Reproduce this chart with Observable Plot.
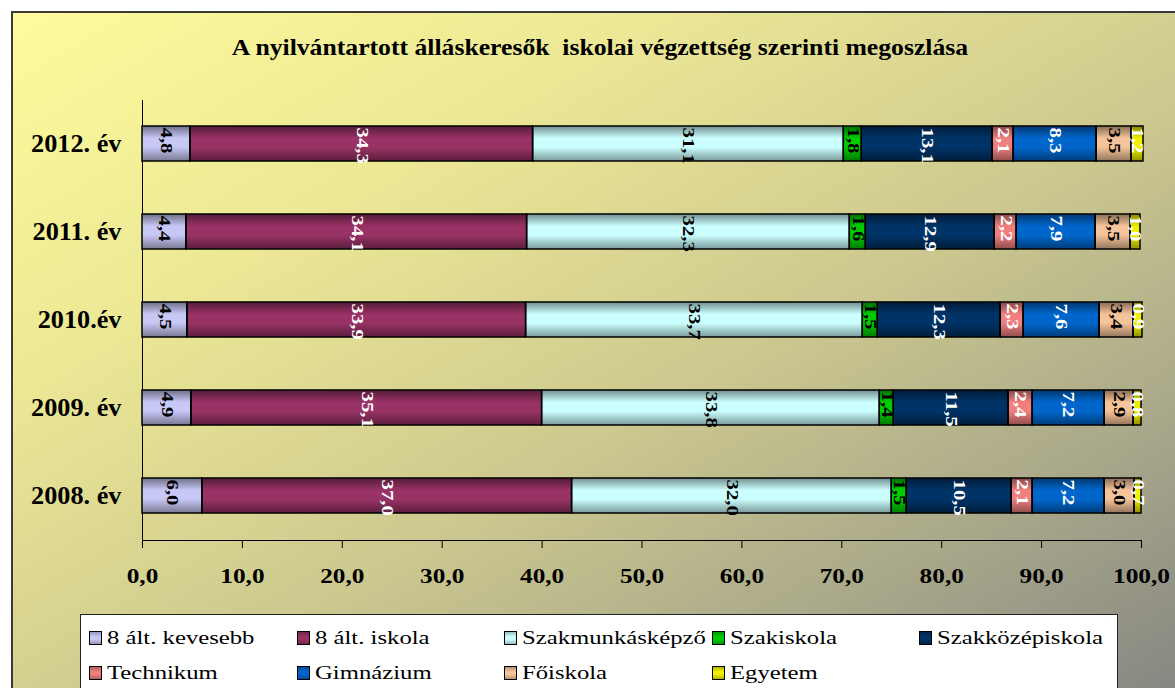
<!DOCTYPE html>
<html>
<head>
<meta charset="utf-8">
<script src="https://cdn.jsdelivr.net/npm/d3@7"></script>
<script src="https://cdn.jsdelivr.net/npm/@observablehq/plot@0.6"></script>
<style>
  html, body { margin: 0; padding: 0; width: 1175px; height: 688px; overflow: hidden; background: #fff; }
  #frame { position: absolute; left: 11px; top: 11px; width: 1180px; height: 690px; border: 2px solid #3a3a3a;
    background: linear-gradient(to bottom right, #fdfb9c 0%, #ebe795 28%, #cdc98f 55%, #a9a88a 78%, #848482 100%); }
  #chart { position: absolute; left: 0; top: 0; }
  #title { position: absolute; left: 600px; top: 35px; transform: translateX(-50%) scaleX(1.07); white-space: pre;
    font: bold 24px "Liberation Serif", serif; line-height: 1; color: #000; }
  #legend { position: absolute; left: 80px; top: 614px; width: 1036px; height: 100px; background: #fff; border: 1px solid #222; }
  .item { position: absolute; height: 22px; display: flex; align-items: center; }
  .sw { width: 11px; height: 12px; border: 1px solid #000; box-sizing: content-box; margin-right: 5px;
    background-image: linear-gradient(to bottom, rgba(0,0,0,0.25), rgba(0,0,0,0) 40%, rgba(0,0,0,0) 60%, rgba(0,0,0,0.25)); }
  .lt { font: 19px "Liberation Serif", serif; transform: scaleX(1.3); transform-origin: left center; white-space: nowrap; color: #000; }
  svg text { font-family: "Liberation Serif", serif; }
  g[aria-label="x-axis tick label"] text { font-size: 22px; font-weight: bold; fill: #000; }
  g[aria-label="y-axis tick label"] text { font-size: 25px; font-weight: bold; fill: #000; }
</style>
</head>
<body>
<div id="frame"></div>
<div id="chart"></div>
<div id="title">A nyilvántartott álláskeresők  iskolai végzettség szerinti megoszlása</div>
<div id="legend"></div>
<script>
const years = ["2012. év", "2011. év", "2010.év", "2009. év", "2008. év"];
const categories = ["8 ált. kevesebb", "8 ált. iskola", "Szakmunkásképző", "Szakiskola", "Szakközépiskola", "Technikum", "Gimnázium", "Főiskola", "Egyetem"];
const colors = ["#c8c8f6", "#993366", "#ccffff", "#00cc00", "#003366", "#f08080", "#0066cc", "#f5c49a", "#f0f000"];
const darkLabelCats = ["8 ált. kevesebb", "Szakmunkásképző", "Szakiskola", "Főiskola"];
const v2012 = [4.8, 34.3, 31.1, 1.8, 13.1, 2.1, 8.3, 3.5, 1.2];
const v2011 = [4.4, 34.1, 32.3, 1.6, 12.9, 2.2, 7.9, 3.5, 1.0];
const v2010 = [4.5, 33.9, 33.7, 1.5, 12.3, 2.3, 7.6, 3.4, 0.9];
const v2009 = [4.9, 35.1, 33.8, 1.4, 11.5, 2.4, 7.2, 2.9, 0.8];
const v2008 = [6.0, 37.0, 32.0, 1.5, 10.5, 2.1, 7.2, 3.0, 0.7];
const xTicks = [0, 10, 20, 30, 40, 50, 60, 70, 80, 90, 100];

const series = [v2012, v2011, v2010, v2009, v2008];
const rows = [];
years.forEach((y, i) => categories.forEach((c, j) => rows.push({year: y, cat: c, value: series[i][j]})));
const fmt = v => v.toFixed(1).replace(".", ",");
const stackOpts = {y: "year", x: "value", z: "cat"};

const plot = Plot.plot({
  width: 1175,
  height: 688,
  marginLeft: 142,
  marginRight: 34,
  marginTop: 100,
  marginBottom: 148,
  style: {background: "transparent", fontFamily: "Liberation Serif, serif", color: "#000"},
  x: {domain: [0, 100], ticks: xTicks, tickFormat: fmt, tickSize: 8, tickPadding: 19, line: true, label: null},
  y: {domain: years, paddingInner: 0.6, paddingOuter: 0.3, tickSize: 0, tickPadding: 21, line: true, label: null},
  color: {domain: categories, range: colors},
  marks: [
    Plot.barX(rows, Plot.stackX({...stackOpts, fill: "cat"})),
    Plot.barX(rows, Plot.stackX({...stackOpts, fill: "url(#shade)", stroke: "#000", strokeWidth: 1.5})),
    Plot.text(rows, Plot.stackX({...stackOpts, text: d => darkLabelCats.includes(d.cat) ? fmt(d.value) : "",
      fill: "#000", rotate: 90, textAnchor: "start", dy: -16.5, fontSize: 16, fontWeight: "bold"})),
    Plot.text(rows, Plot.stackX({...stackOpts, text: d => darkLabelCats.includes(d.cat) ? "" : fmt(d.value),
      fill: "#fff", rotate: 90, textAnchor: "start", dy: -16.5, fontSize: 16, fontWeight: "bold"}))
  ]
});
document.getElementById("chart").appendChild(plot);

// gradient shading for the bars
const svg = d3.select(plot);
const grad = svg.insert("defs", ":first-child").append("linearGradient")
  .attr("id", "shade").attr("x1", 0).attr("y1", 0).attr("x2", 0).attr("y2", 1);
[[0, 0.45], [0.35, 0], [0.6, 0], [1, 0.4]].forEach(([o, a]) =>
  grad.append("stop").attr("offset", o).attr("stop-color", "#000").attr("stop-opacity", a));

// stretch text horizontally along its direction to match the reference's wide glyphs
function stretch(nodes, f) {
  nodes.forEach(t => {
    const L = t.getComputedTextLength();
    if (L > 0) { t.setAttribute("textLength", L * f); t.setAttribute("lengthAdjust", "spacingAndGlyphs"); }
  });
}
stretch(plot.querySelectorAll('g[aria-label="x-axis tick label"] text'), 1.15);
stretch(plot.querySelectorAll('g[aria-label="y-axis tick label"] text'), 1.05);
stretch(plot.querySelectorAll('g[aria-label="text"] text'), 1.3);

// legend
const legend = document.getElementById("legend");
categories.forEach((c, i) => {
  const col = i % 5, row = Math.floor(i / 5);
  const item = document.createElement("div");
  item.className = "item";
  item.style.left = (8 + col * 207.5) + "px";
  item.style.top = (12 + row * 35) + "px";
  const sw = document.createElement("span");
  sw.className = "sw";
  sw.style.backgroundColor = colors[i];
  const lt = document.createElement("span");
  lt.className = "lt";
  lt.textContent = c;
  item.appendChild(sw);
  item.appendChild(lt);
  legend.appendChild(item);
});
</script>
</body>
</html>
